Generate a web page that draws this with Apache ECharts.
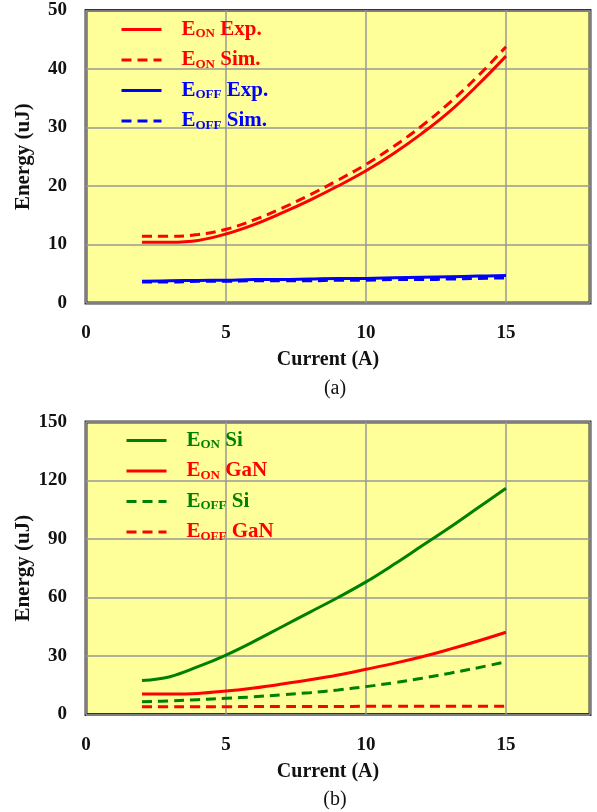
<!DOCTYPE html>
<html>
<head>
<meta charset="utf-8">
<script src="https://cdn.jsdelivr.net/npm/echarts@6/dist/echarts.min.js"></script>
<style>
  html, body { margin: 0; padding: 0; background: #fff; }
  #chart { width: 597px; height: 812px; }
</style>
</head>
<body>
<div id="chart"></div>
<script>
// Datos
const corriente = [2, 3, 4, 5, 6, 7, 8, 9, 10, 11, 12, 13, 14, 15];

// (a) Exp. vs Sim.
const eOnExp = [10.4, 10.4, 10.7, 11.8, 13.4, 15.4, 17.6, 20.0, 22.6, 25.6, 29.0, 32.8, 37.3, 42.2];
const eOnSim = [11.4, 11.4, 11.7, 12.6, 14.2, 16.2, 18.5, 21.0, 23.7, 26.8, 30.3, 34.3, 38.8, 43.8];
const eOffExp = [3.7, 3.8, 3.85, 3.9, 4.0, 4.0, 4.1, 4.2, 4.2, 4.3, 4.4, 4.5, 4.6, 4.7];
const eOffSim = [3.6, 3.6, 3.7, 3.7, 3.8, 3.8, 3.8, 3.9, 3.9, 4.0, 4.0, 4.1, 4.2, 4.3];

// (b) Si vs GaN
const eOnSi = [17.4, 19.4, 24.5, 30.5, 37.5, 45.0, 52.5, 60.0, 68.0, 77.0, 86.5, 96.0, 106.0, 116.0];
const eOnGaN = [10.5, 10.5, 10.8, 12.0, 13.6, 15.6, 17.8, 20.3, 23.2, 26.2, 29.6, 33.5, 37.7, 42.2];
const eOffSi = [6.6, 7.0, 7.6, 8.3, 9.1, 10.1, 11.2, 12.6, 14.3, 16.3, 18.6, 21.2, 24.0, 27.0];
const eOffGaN = [4.0, 4.0, 4.0, 4.0, 4.1, 4.1, 4.1, 4.1, 4.2, 4.2, 4.2, 4.2, 4.2, 4.3];

const ticksX = [0, 5, 10, 15];

const fuente = '"Liberation Serif", "Times New Roman", serif';
const rojo = '#ff0000';
const azul = '#0000ff';
const verde = '#008000';

const pares = valores => corriente.map((c, i) => [c, valores[i]]);

const rich = {
    b: { fontFamily: fuente, fontWeight: 'bold', fontSize: 21, lineHeight: 22 },
    s: { fontFamily: fuente, fontWeight: 'bold', fontSize: 13, padding: [9, 0, 0, 0] }
};

// "E_ON Exp." -> texto enriquecido con subindice
function etiqueta(nombre) {
    const partes = nombre.match(/^E_(\w+) (.*)$/);
    if (!partes) return `{b|${nombre}}`;
    return `{b|E}{s|${partes[1]}}{b| ${partes[2]}}`;
}

function serie(nombre, valores, color, discontinua, eje) {
    return {
        name: nombre,
        type: 'line',
        xAxisIndex: eje,
        yAxisIndex: eje,
        data: pares(valores),
        smooth: 0.4,
        symbol: 'none',
        lineStyle: { color: color, width: 3, type: discontinua ? [10, 6] : 'solid' },
        itemStyle: { color: color }
    };
}

function ejeX(indice) {
    return {
        type: 'value',
        gridIndex: indice,
        min: 0,
        max: 18,
        interval: 5,
        name: 'Current (A)',
        nameLocation: 'middle',
        nameGap: 47,
        nameTextStyle: { fontFamily: fuente, fontWeight: 'bold', fontSize: 20, color: '#111', padding: [0, 20, 0, 0] },
        axisLine: { show: false },
        axisTick: { show: false },
        axisLabel: {
            margin: 21,
            showMaxLabel: false,
            fontFamily: fuente, fontWeight: 'bold', fontSize: 19, color: '#111',
            formatter: v => ticksX.includes(v) ? String(v) : ''
        },
        splitLine: { lineStyle: { color: '#999', width: 1.5 } }
    };
}

function ejeY(indice, max, intervalo) {
    return {
        type: 'value',
        gridIndex: indice,
        min: 0,
        max: max,
        interval: intervalo,
        name: 'Energy (uJ)',
        nameLocation: 'middle',
        nameRotate: 90,
        nameGap: 52,
        nameMoveOverlap: false,
        nameTextStyle: { fontFamily: fuente, fontWeight: 'bold', fontSize: 21, color: '#111' },
        axisLine: { show: false },
        axisTick: { show: false },
        axisLabel: { margin: 19, fontFamily: fuente, fontWeight: 'bold', fontSize: 19, color: '#111' },
        splitLine: { lineStyle: { color: '#999', width: 1.5 } }
    };
}

function leyenda(nombres, colores, izquierda, arriba) {
    return {
        orient: 'vertical',
        left: izquierda,
        top: arriba,
        itemWidth: 40,
        itemHeight: 14,
        itemGap: 9,
        selectedMode: false,
        itemStyle: { opacity: 0 },
        lineStyle: { width: 3 },
        data: nombres.map((n, i) => ({ name: n, textStyle: { color: colores[i] } })),
        formatter: etiqueta,
        textStyle: { padding: [0, 0, 0, 15], rich: rich }
    };
}

const chart = echarts.init(document.getElementById('chart'));

const option = {
    animation: false,
    backgroundColor: '#ffffff',
    title: [
        { text: '(a)', left: 330, top: 374, textAlign: 'center', textStyle: { fontFamily: fuente, fontWeight: 'normal', fontSize: 20, color: '#111' } },
        { text: '(b)', left: 330, top: 785, textAlign: 'center', textStyle: { fontFamily: fuente, fontWeight: 'normal', fontSize: 20, color: '#111' } }
    ],
    grid: [
        { left: 86, top: 10.5, width: 504, height: 292.5, show: true, backgroundColor: '#ffff99', borderColor: '#333', borderWidth: 3 },
        { left: 86, top: 422, width: 504, height: 292.5, show: true, backgroundColor: '#ffff99', borderColor: '#333', borderWidth: 3 }
    ],
    legend: [
        leyenda(['E_ON Exp.', 'E_ON Sim.', 'E_OFF Exp.', 'E_OFF Sim.'], [rojo, rojo, azul, azul], 115, 14),
        leyenda(['E_ON Si', 'E_ON GaN', 'E_OFF Si', 'E_OFF GaN'], [verde, rojo, verde, rojo], 120, 425)
    ],
    xAxis: [ejeX(0), ejeX(1)],
    yAxis: [ejeY(0, 50, 10), ejeY(1, 150, 30)],
    series: [
        serie('E_ON Exp.', eOnExp, rojo, false, 0),
        serie('E_ON Sim.', eOnSim, rojo, true, 0),
        serie('E_OFF Exp.', eOffExp, azul, false, 0),
        serie('E_OFF Sim.', eOffSim, azul, true, 0),
        serie('E_ON Si', eOnSi, verde, false, 1),
        serie('E_ON GaN', eOnGaN, rojo, false, 1),
        serie('E_OFF Si', eOffSi, verde, true, 1),
        serie('E_OFF GaN', eOffGaN, rojo, true, 1)
    ]
};

chart.setOption(option);
</script>
</body>
</html>
